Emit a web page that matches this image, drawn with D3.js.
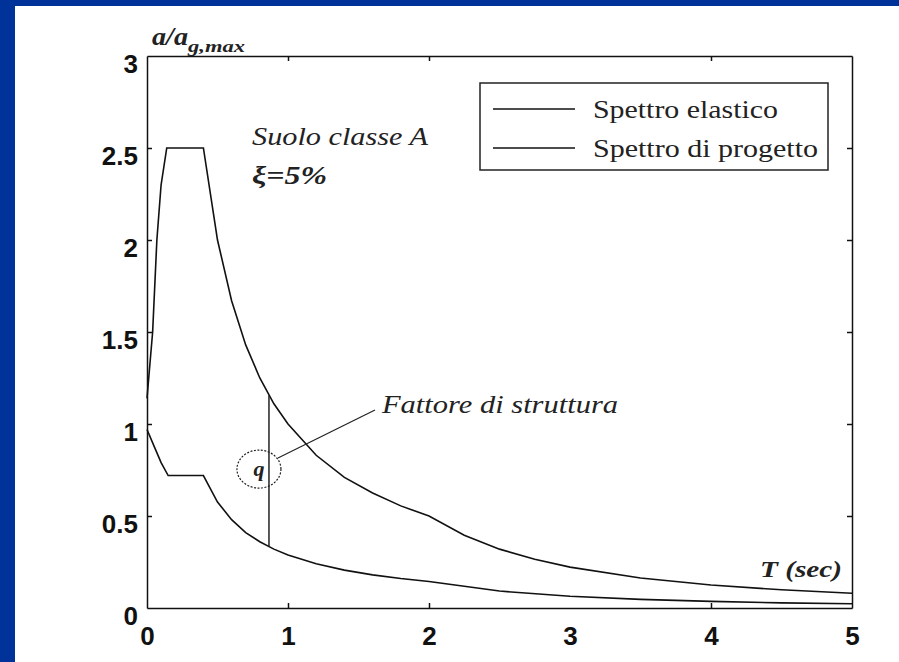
<!DOCTYPE html>
<html>
<head>
<meta charset="utf-8">
<script src="https://cdn.jsdelivr.net/npm/d3@7"></script>
<style>
  body { margin: 0; background: #003399; }
  svg { display: block; }
  .axis path, .axis line { stroke: #111; stroke-width: 1.5; }
  .axis text { font-family: "Liberation Sans", Arial, sans-serif; font-weight: bold; font-size: 26px; fill: #111; }
  .serif { font-family: "Liberation Serif", "Times New Roman", serif; fill: #222; }
</style>
</head>
<body>
<div id="chart"></div>
<script>
// periods (s) and spectral values
var elasticT   = [0, 0.04, 0.07, 0.10, 0.14, 0.40, 0.5, 0.6, 0.7, 0.8, 0.9, 1.0, 1.2, 1.4, 1.6, 1.8, 2.0, 2.25, 2.5, 2.75, 3.0, 3.5, 4.0, 4.5, 5.0];
var elasticVal = [1.14, 1.5, 2.0, 2.3, 2.5, 2.5, 2.0, 1.67, 1.43, 1.25, 1.11, 1.0, 0.83, 0.71, 0.625, 0.555, 0.5, 0.395, 0.32, 0.265, 0.222, 0.163, 0.125, 0.099, 0.08];
var designT    = [0, 0.05, 0.10, 0.15, 0.40, 0.5, 0.6, 0.7, 0.8, 0.9, 1.0, 1.2, 1.4, 1.6, 1.8, 2.0, 2.5, 3.0, 3.5, 4.0, 4.5, 5.0];
var designVal  = [0.97, 0.88, 0.79, 0.72, 0.72, 0.576, 0.48, 0.41, 0.36, 0.32, 0.288, 0.24, 0.206, 0.18, 0.16, 0.144, 0.092, 0.064, 0.047, 0.036, 0.028, 0.023];
var xTicks = [0, 1, 2, 3, 4, 5];
var yTicks = [0, 0.5, 1, 1.5, 2, 2.5, 3];
var legendLabels = ["Spettro elastico", "Spettro di progetto"];
// q marker: period, top value (elastic), bottom value (design)
var qLine = [0.865, 1.156, 0.335];

var W = 899, H = 662;
var svg = d3.select("#chart").append("svg").attr("width", W).attr("height", H);

svg.append("rect").attr("width", W).attr("height", H).attr("fill", "#003399");
svg.append("rect").attr("x", 15).attr("y", 6).attr("width", W - 15).attr("height", H - 6).attr("fill", "#fff");

var x = d3.scaleLinear().domain([0, 5]).range([147, 852]);
var y = d3.scaleLinear().domain([0, 3]).range([608, 56]);

var line = d3.line()
    .x(function (d) { return x(d[0]); })
    .y(function (d) { return y(d[1]); });

// axes, ticks pointing inward on all four sides
svg.append("g").attr("class", "axis")
    .attr("transform", "translate(0," + y(0) + ")")
    .call(d3.axisBottom(x).tickValues(xTicks).tickSizeInner(-5).tickSizeOuter(0).tickPadding(18.5).tickFormat(d3.format("")));
svg.append("g").attr("class", "axis")
    .attr("transform", "translate(0," + y(3) + ")")
    .call(d3.axisTop(x).tickValues(xTicks).tickSizeInner(-5).tickSizeOuter(0).tickFormat(""));
var yAx = svg.append("g").attr("class", "axis")
    .attr("transform", "translate(" + x(0) + ",0)")
    .call(d3.axisLeft(y).tickValues(yTicks).tickSizeInner(-5).tickSizeOuter(0).tickPadding(9).tickFormat(d3.format("")));
yAx.selectAll("text").attr("dy", "0.63em");
svg.append("g").attr("class", "axis")
    .attr("transform", "translate(" + x(5) + ",0)")
    .call(d3.axisRight(y).tickValues(yTicks).tickSizeInner(-5).tickSizeOuter(0).tickFormat(""));
svg.selectAll(".axis .tick").filter(function (d) { return d === 0 || d === 5 || d === 3; }).select("line").remove();

// spectra
svg.append("path")
    .datum(d3.zip(elasticT, elasticVal))
    .attr("d", line).attr("fill", "none").attr("stroke", "#111").attr("stroke-width", 1.6);
svg.append("path")
    .datum(d3.zip(designT, designVal))
    .attr("d", line).attr("fill", "none").attr("stroke", "#111").attr("stroke-width", 1.6);

// q marker
svg.append("line")
    .attr("x1", x(qLine[0])).attr("x2", x(qLine[0]))
    .attr("y1", y(qLine[1])).attr("y2", y(qLine[2]))
    .attr("stroke", "#222").attr("stroke-width", 1.5);
svg.append("ellipse")
    .attr("cx", x(0.794)).attr("cy", y(0.755)).attr("rx", 22).attr("ry", 19)
    .attr("fill", "none").attr("stroke", "#222").attr("stroke-width", 1.2).attr("stroke-dasharray", "2,1.5");
svg.append("text").attr("class", "serif")
    .attr("x", x(0.794)).attr("y", y(0.755) + 7)
    .attr("text-anchor", "middle").style("font-size", "22px").style("font-style", "italic").style("font-weight", "bold")
    .text("q");
svg.append("line")
    .attr("x1", x(0.929)).attr("y1", y(0.815))
    .attr("x2", x(1.617)).attr("y2", y(1.076))
    .attr("stroke", "#222").attr("stroke-width", 1.2);
svg.append("text").attr("class", "serif")
    .attr("x", 382).attr("y", 413)
    .attr("textLength", 236).attr("lengthAdjust", "spacingAndGlyphs")
    .style("font-size", "25px").style("font-style", "italic")
    .text("Fattore di struttura");

// annotations
svg.append("text").attr("class", "serif")
    .attr("x", 252).attr("y", 145)
    .attr("textLength", 176).attr("lengthAdjust", "spacingAndGlyphs")
    .style("font-size", "25px").style("font-style", "italic")
    .text("Suolo classe A");
svg.append("text").attr("class", "serif")
    .attr("x", 252).attr("y", 184)
    .attr("textLength", 75).attr("lengthAdjust", "spacingAndGlyphs")
    .style("font-size", "25px").style("font-style", "italic").style("font-weight", "bold")
    .text("ξ=5%");

// axis titles
var yl = svg.append("text").attr("class", "serif")
    .attr("x", 152).attr("y", 45)
    .style("font-style", "italic").style("font-weight", "bold");
yl.append("tspan").attr("textLength", 36).attr("lengthAdjust", "spacingAndGlyphs").style("font-size", "25px").text("a/a");
yl.append("tspan").attr("dy", 7).attr("textLength", 57).attr("lengthAdjust", "spacingAndGlyphs").style("font-size", "17px").text("g,max");
svg.append("text").attr("class", "serif")
    .attr("x", 760).attr("y", 577)
    .attr("textLength", 82).attr("lengthAdjust", "spacingAndGlyphs")
    .style("font-size", "24px").style("font-style", "italic").style("font-weight", "bold")
    .text("T (sec)");

// legend
var leg = svg.append("g");
leg.append("rect")
    .attr("x", 480).attr("y", 83).attr("width", 348).attr("height", 87)
    .attr("fill", "#fff").attr("stroke", "#222").attr("stroke-width", 1.5);
var legY = [109, 148];
var legW = [185, 225];
legendLabels.forEach(function (lab, i) {
    leg.append("line")
        .attr("x1", 493).attr("x2", 575).attr("y1", legY[i]).attr("y2", legY[i])
        .attr("stroke", "#111").attr("stroke-width", 1.5);
    leg.append("text").attr("class", "serif")
        .attr("x", 593).attr("y", legY[i] + 9)
        .attr("textLength", legW[i]).attr("lengthAdjust", "spacingAndGlyphs")
        .style("font-size", "25px")
        .text(lab);
});
</script>
</body>
</html>
